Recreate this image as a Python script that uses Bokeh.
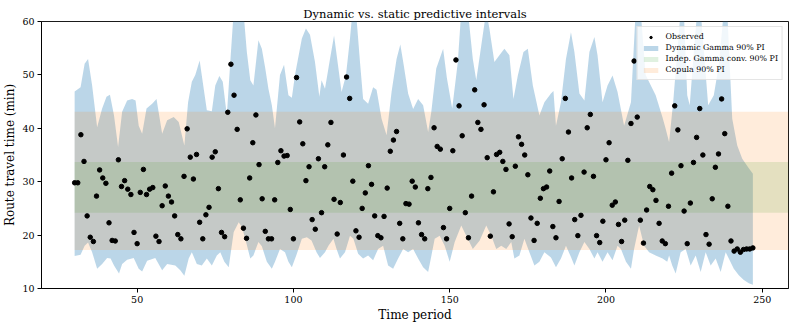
from bokeh.plotting import figure
from bokeh.models import Range1d, Legend, LegendItem, FixedTicker
from bokeh.embed import file_html
from bokeh.resources import INLINE

# ---------------- data ----------------
t_obs = list(range(30, 248))
observed = [
    29.8, 29.8, 38.8, 33.8, 23.6, 19.6, 18.8, 27.3, 32.2, 30.7,   # 30-39
    29.7, 22.3, 19.0, 18.9, 34.1, 29.1, 30.2, 28.6, 27.6, 20.5,   # 40-49
    18.4, 28.0, 32.3, 27.6, 28.6, 28.9, 19.8, 18.8, 25.5, 29.2,   # 50-59
    27.3, 26.2, 23.6, 20.1, 19.3, 31.0, 39.9, 34.6, 30.5, 35.1,   # 60-69
    22.4, 19.3, 23.8, 25.2, 34.6, 35.6, 28.7, 20.5, 19.7, 43.0,   # 70-79
    52.0, 46.2, 39.8, 26.6, 21.3, 19.4, 30.7, 37.3, 42.5, 33.2,   # 80-89
    26.8, 20.7, 19.3, 19.3, 26.6, 33.6, 35.8, 34.8, 34.9, 24.8,   # 90-99
    19.3, 49.5, 41.2, 37.1, 30.2, 32.8, 22.9, 21.1, 34.3, 24.2,   # 100-109
    32.8, 36.9, 41.1, 26.7, 20.2, 26.1, 35.0, 49.6, 45.6, 30.1,   # 110-119
    20.8, 19.6, 25.0, 27.9, 33.0, 29.5, 23.6, 19.9, 19.5, 23.5,   # 120-129
    28.8, 35.7, 37.8, 39.4, 22.2, 19.3, 25.9, 25.8, 30.1, 29.0,   # 130-139
    22.3, 20.1, 19.3, 28.7, 30.8, 40.1, 36.6, 36.1, 21.4, 19.3,   # 140-149
    25.0, 35.8, 52.8, 44.2, 38.6, 24.2, 19.5, 27.3, 47.2, 41.1,   # 150-159
    39.8, 44.4, 34.5, 19.8, 28.1, 35.1, 35.5, 33.8, 32.3, 22.1,   # 160-169
    19.7, 32.9, 38.4, 37.0, 35.0, 31.3, 23.2, 19.0, 22.2, 26.9,   # 170-179
    28.7, 29.0, 32.0, 21.6, 19.5, 26.3, 34.3, 45.6, 39.3, 30.7,   # 180-189
    22.9, 19.9, 23.7, 31.8, 40.1, 42.6, 31.0, 19.9, 18.6, 22.6,   # 190-199
    34.1, 37.3, 25.6, 26.2, 22.0, 18.8, 22.8, 34.0, 40.9, 52.6,   # 200-209
    42.1, 22.8, 18.5, 24.7, 29.1, 28.5, 26.5, 22.2, 18.9, 18.4,   # 210-219
    25.4, 31.6, 44.2, 39.7, 33.0, 24.5, 18.4, 26.0, 33.6, 38.3,   # 220-229
    43.7, 35.0, 20.1, 18.3, 26.8, 32.7, 35.2, 45.5, 39.0, 25.4,   # 230-239
    18.9, 17.0, 17.4, 16.8, 17.3, 17.4, 17.4, 17.6,               # 240-247
]

# Dynamic Gamma 90% PI (band edges, read at their vertices)
dyn_upper_t = [30, 31.9, 33.2, 34.3, 35.6, 37.2, 38.8, 40.2, 41.3, 42.6, 43.9, 45.2, 46.8, 48.4,
               49.5, 50.5, 51.6, 53.0, 54.8, 56.2, 58.0, 59.6, 61.7, 63.3, 65.1, 66.3, 67.5, 68.6,
               70.0, 71.3, 72.3, 73.9, 75.0, 76.3, 77.4, 78.7, 79.8, 80.9, 84.0, 85.1, 86.2, 87.2,
               88.8, 89.9, 91.0, 92.0, 93.1, 94.1, 95.7, 97.0, 98.4, 99.5, 100.5, 102.7, 104.0,
               105.3, 106.9, 108.3, 109.0, 110.1, 111.7, 113.0, 114.0, 115.4, 116.8, 118.1, 118.9,
               120.0, 121.3, 122.3, 123.9, 125.5, 126.6, 128.2, 129.8, 131.4, 133.0, 134.2, 135.3,
               136.7, 138.3, 139.9, 141.5, 143.1, 144.1, 145.7, 147.9, 149.1, 150.8, 152.6, 153.7,
               155.8, 157.4, 158.5, 160.1, 161.7, 162.7, 164.3, 165.9, 167.5, 169.1, 170.4, 171.8,
               173.6, 175.0, 176.6, 178.7, 180.3, 182.4, 183.2, 184.0, 185.6, 187.2, 188.8, 189.9,
               191.5, 193.1, 194.7, 196.3, 197.3, 198.9, 200.5, 202.1, 203.7, 205.8, 208.0, 209.5,
               211.1, 212.7, 215.9, 218.1, 219.1, 220.2, 221.5, 222.8, 223.9, 224.9, 226.0, 226.8,
               228.1, 229.2, 230.3, 232.7, 234.5, 236.1, 237.7, 238.8, 240.4, 242.0, 243.6, 245.7,
               247.0]
dyn_upper = [46.9, 47.7, 52.1, 53.0, 48.0, 40.2, 43.7, 45.9, 46.3, 42.4, 36.5, 43.1, 45.2, 45.5,
             45.2, 40.5, 39.0, 43.7, 44.6, 45.5, 39.0, 41.5, 42.1, 41.2, 36.8, 44.9, 48.7, 50.0,
             52.7, 47.4, 43.4, 43.2, 48.0, 49.8, 48.7, 42.4, 52.4, 62.0, 62.0, 54.3, 49.0, 48.0,
             56.5, 54.9, 51.2, 47.4, 44.3, 40.0, 50.0, 51.9, 46.2, 45.7, 50.0, 56.8, 58.7,
             57.5, 52.4, 45.9, 49.0, 47.4, 53.0, 57.4, 53.0, 46.8, 49.9, 56.8, 62.0,
             62.0, 52.4, 45.5, 44.6, 47.7, 47.2, 41.8, 38.7, 46.8, 53.0, 55.7, 51.8,
             46.5, 43.6, 45.5, 44.3, 39.3, 43.0, 51.2, 54.9, 49.4, 43.7, 52.4, 62.0,
             62.0, 53.0, 49.0, 55.5, 62.0, 58.7, 52.4, 53.7, 54.9, 53.7, 45.5, 49.9,
             54.3, 54.9, 48.0, 42.4, 44.9, 46.5, 47.0, 40.5, 44.9, 53.0, 58.0, 54.3,
             46.5, 45.2, 54.3, 57.1, 53.7, 44.9, 48.0, 49.9, 46.8, 40.5, 44.9, 62.0,
             62.0, 50.0, 46.2, 42.0, 39.9, 37.4, 44.9, 54.3, 62.0, 62.0, 46.2, 44.3,
             54.3, 62.0, 62.0, 44.3, 46.2, 51.8, 62.0, 62.0, 41.8, 36.8, 34.3, 32.5,
             31.5]
dyn_lower_t = [30, 31.9, 33.2, 34.3, 35.6, 37.2, 38.8, 40.4, 41.5, 42.6, 44.2, 45.2, 46.8, 48.9,
               50.5, 51.6, 53.2, 55.8, 58.0, 59.6, 62.2, 63.8, 65.1, 66.5, 67.5, 69.1, 70.7, 72.3,
               73.9, 75.5, 76.6, 77.9, 79.3, 80.9, 82.5, 83.5, 84.6, 86.2, 87.2, 88.8, 89.9, 91.5,
               93.1, 94.1, 95.7, 97.3, 98.4, 99.5, 101.1, 102.7, 104.3, 105.8, 107.4, 108.5, 110.1,
               111.2, 112.8, 113.8, 114.9, 116.5, 118.1, 119.2, 120.7, 122.3, 123.9, 125.5, 127.1,
               128.7, 130.3, 131.9, 133.5, 135.1, 136.7, 138.3, 139.9, 141.5, 143.1, 144.1, 145.2,
               146.8, 148.4, 150.0, 151.6, 153.7, 155.3, 157.4, 159.6, 161.7, 163.3, 164.9, 166.5,
               168.1, 169.7, 170.7, 172.3, 173.9, 175.5, 177.1, 178.7, 180.3, 182.4, 184.0, 185.6,
               187.2, 188.8, 189.9, 191.5, 193.1, 194.7, 196.3, 197.3, 198.9, 200.5, 202.1, 203.7,
               204.8, 206.4, 208.0, 209.0, 210.6, 212.2, 213.8, 215.9, 218.1, 219.6, 220.2, 221.2,
               222.3, 223.9, 225.5, 227.1, 228.7, 230.3, 231.9, 233.5, 235.1, 236.7, 238.3, 239.3,
               240.9, 242.5, 244.1, 245.7, 247.0]
dyn_lower = [16.1, 16.3, 18.0, 18.6, 16.8, 13.7, 14.6, 15.7, 15.6, 14.3, 12.8, 14.6, 15.4, 15.7,
             13.7, 13.2, 15.2, 15.7, 13.4, 14.6, 14.3, 13.4, 12.4, 15.6, 16.8, 14.6, 14.3, 15.6,
             14.3, 16.2, 16.8, 15.0, 14.0, 20.6, 22.4, 21.5, 19.3, 15.6, 16.2, 18.7, 17.9, 15.0,
             13.7, 15.0, 17.4, 16.8, 15.0, 14.0, 16.5, 19.3, 19.6, 19.0, 16.8, 15.7, 16.8,
             18.0, 19.3, 17.4, 15.6, 16.8, 19.9, 19.3, 16.5, 15.6, 16.2, 15.3, 17.4,
             18.0, 14.3, 13.7, 15.6, 17.4, 16.8, 17.4, 15.6, 14.0, 13.1, 16.0, 19.3,
             19.9, 18.0, 15.0, 18.7, 21.8, 19.9, 17.4, 19.0, 21.8, 19.9, 17.4, 18.0,
             17.4, 18.7, 15.6, 16.2, 19.3, 16.8, 14.3, 15.0, 16.8, 15.8, 14.0, 15.6,
             18.0, 15.9, 14.3, 16.8, 18.7, 17.4, 15.6, 16.8, 15.0, 16.8, 15.3, 18.0,
             17.4, 15.0, 13.7, 17.4, 21.8, 18.0, 16.8, 16.2, 15.6, 15.0, 16.2, 14.3,
             12.8, 16.8, 17.4, 14.3, 16.2, 13.1, 16.8, 14.3, 15.6, 13.1, 16.8, 15.6,
             13.7, 12.5, 11.6, 11.0, 10.7]

# Static intervals
X_MIN, X_MAX = 19.4, 258.4
static_t = [30, X_MAX]
indep_lo, indep_hi = 24.2, 33.7      # Indep. Gamma conv. 90% PI
copula_lo, copula_hi = 17.2, 43.1    # Copula 90% PI

x_ticks = [50, 100, 150, 200, 250]
y_ticks = [10, 20, 30, 40, 50, 60]

# ---------------- figure ----------------
FONT = "DejaVu Serif"
p = figure(width=793, height=325, x_range=Range1d(X_MIN, X_MAX), y_range=Range1d(10, 60),
           output_backend="svg", toolbar_location=None,
           min_border_left=39, min_border_right=5, min_border_top=21, min_border_bottom=37)

p.title.text = "Dynamic vs. static predictive intervals"
p.title.align = "center"
p.title.text_font = FONT
p.title.text_font_style = "normal"
p.title.text_font_size = "11.5px"
p.title.text_color = "black"
p.title.standoff = 1

p.grid.visible = False
p.outline_line_color = "black"
p.outline_line_width = 0.9
p.background_fill_color = "white"
p.border_fill_color = "white"

p.xaxis.ticker = FixedTicker(ticks=x_ticks)
p.yaxis.ticker = FixedTicker(ticks=y_ticks)
for ax in (p.xaxis[0], p.yaxis[0]):
    ax.axis_line_color = "black"
    ax.axis_line_width = 0.9
    ax.major_tick_out = 4
    ax.major_tick_in = 0
    ax.minor_tick_out = 0
    ax.minor_tick_in = 0
    ax.major_label_text_font = FONT
    ax.major_label_text_font_size = "9.5px"
    ax.major_label_text_color = "black"
    ax.axis_label_text_font = FONT
    ax.axis_label_text_font_style = "normal"
    ax.axis_label_text_font_size = "12px"
    ax.axis_label_text_color = "black"
    ax.major_label_standoff = 3
    ax.axis_label_standoff = 2
p.xaxis.axis_label = "Time period"
p.yaxis.axis_label = "Route travel time (min)"

# dynamic band as a closed polygon (upper edge, then lower edge reversed)
band_x = dyn_upper_t + dyn_lower_t[::-1]
band_y = dyn_upper + dyn_lower[::-1]
r_dyn = p.patch(band_x, band_y, fill_color="#1f77b4", fill_alpha=0.3, line_color=None)
r_ind = p.varea(x=static_t, y1=[indep_lo] * 2, y2=[indep_hi] * 2,
                fill_color="#2ca02c", fill_alpha=0.15)
r_cop = p.varea(x=static_t, y1=[copula_lo] * 2, y2=[copula_hi] * 2,
                fill_color="#ff7f0e", fill_alpha=0.15)
r_obs = p.scatter(t_obs, observed, size=4.5, color="black")

legend = Legend(items=[
    LegendItem(label="Observed", renderers=[r_obs]),
    LegendItem(label="Dynamic Gamma 90% PI", renderers=[r_dyn]),
    LegendItem(label="Indep. Gamma conv. 90% PI", renderers=[r_ind]),
    LegendItem(label="Copula 90% PI", renderers=[r_cop]),
], location="top_right")
legend.label_text_font = FONT
legend.label_text_font_size = "7.9px"
legend.label_text_color = "black"
legend.glyph_width = 18
legend.glyph_height = 6
legend.label_height = 11
legend.label_standoff = 6
legend.padding = 4
legend.spacing = 0
legend.margin = 5
legend.border_line_color = "#cccccc"
legend.border_line_width = 1
legend.background_fill_alpha = 0.8
p.add_layout(legend)

open("out.html", "w").write(file_html(p, INLINE))
